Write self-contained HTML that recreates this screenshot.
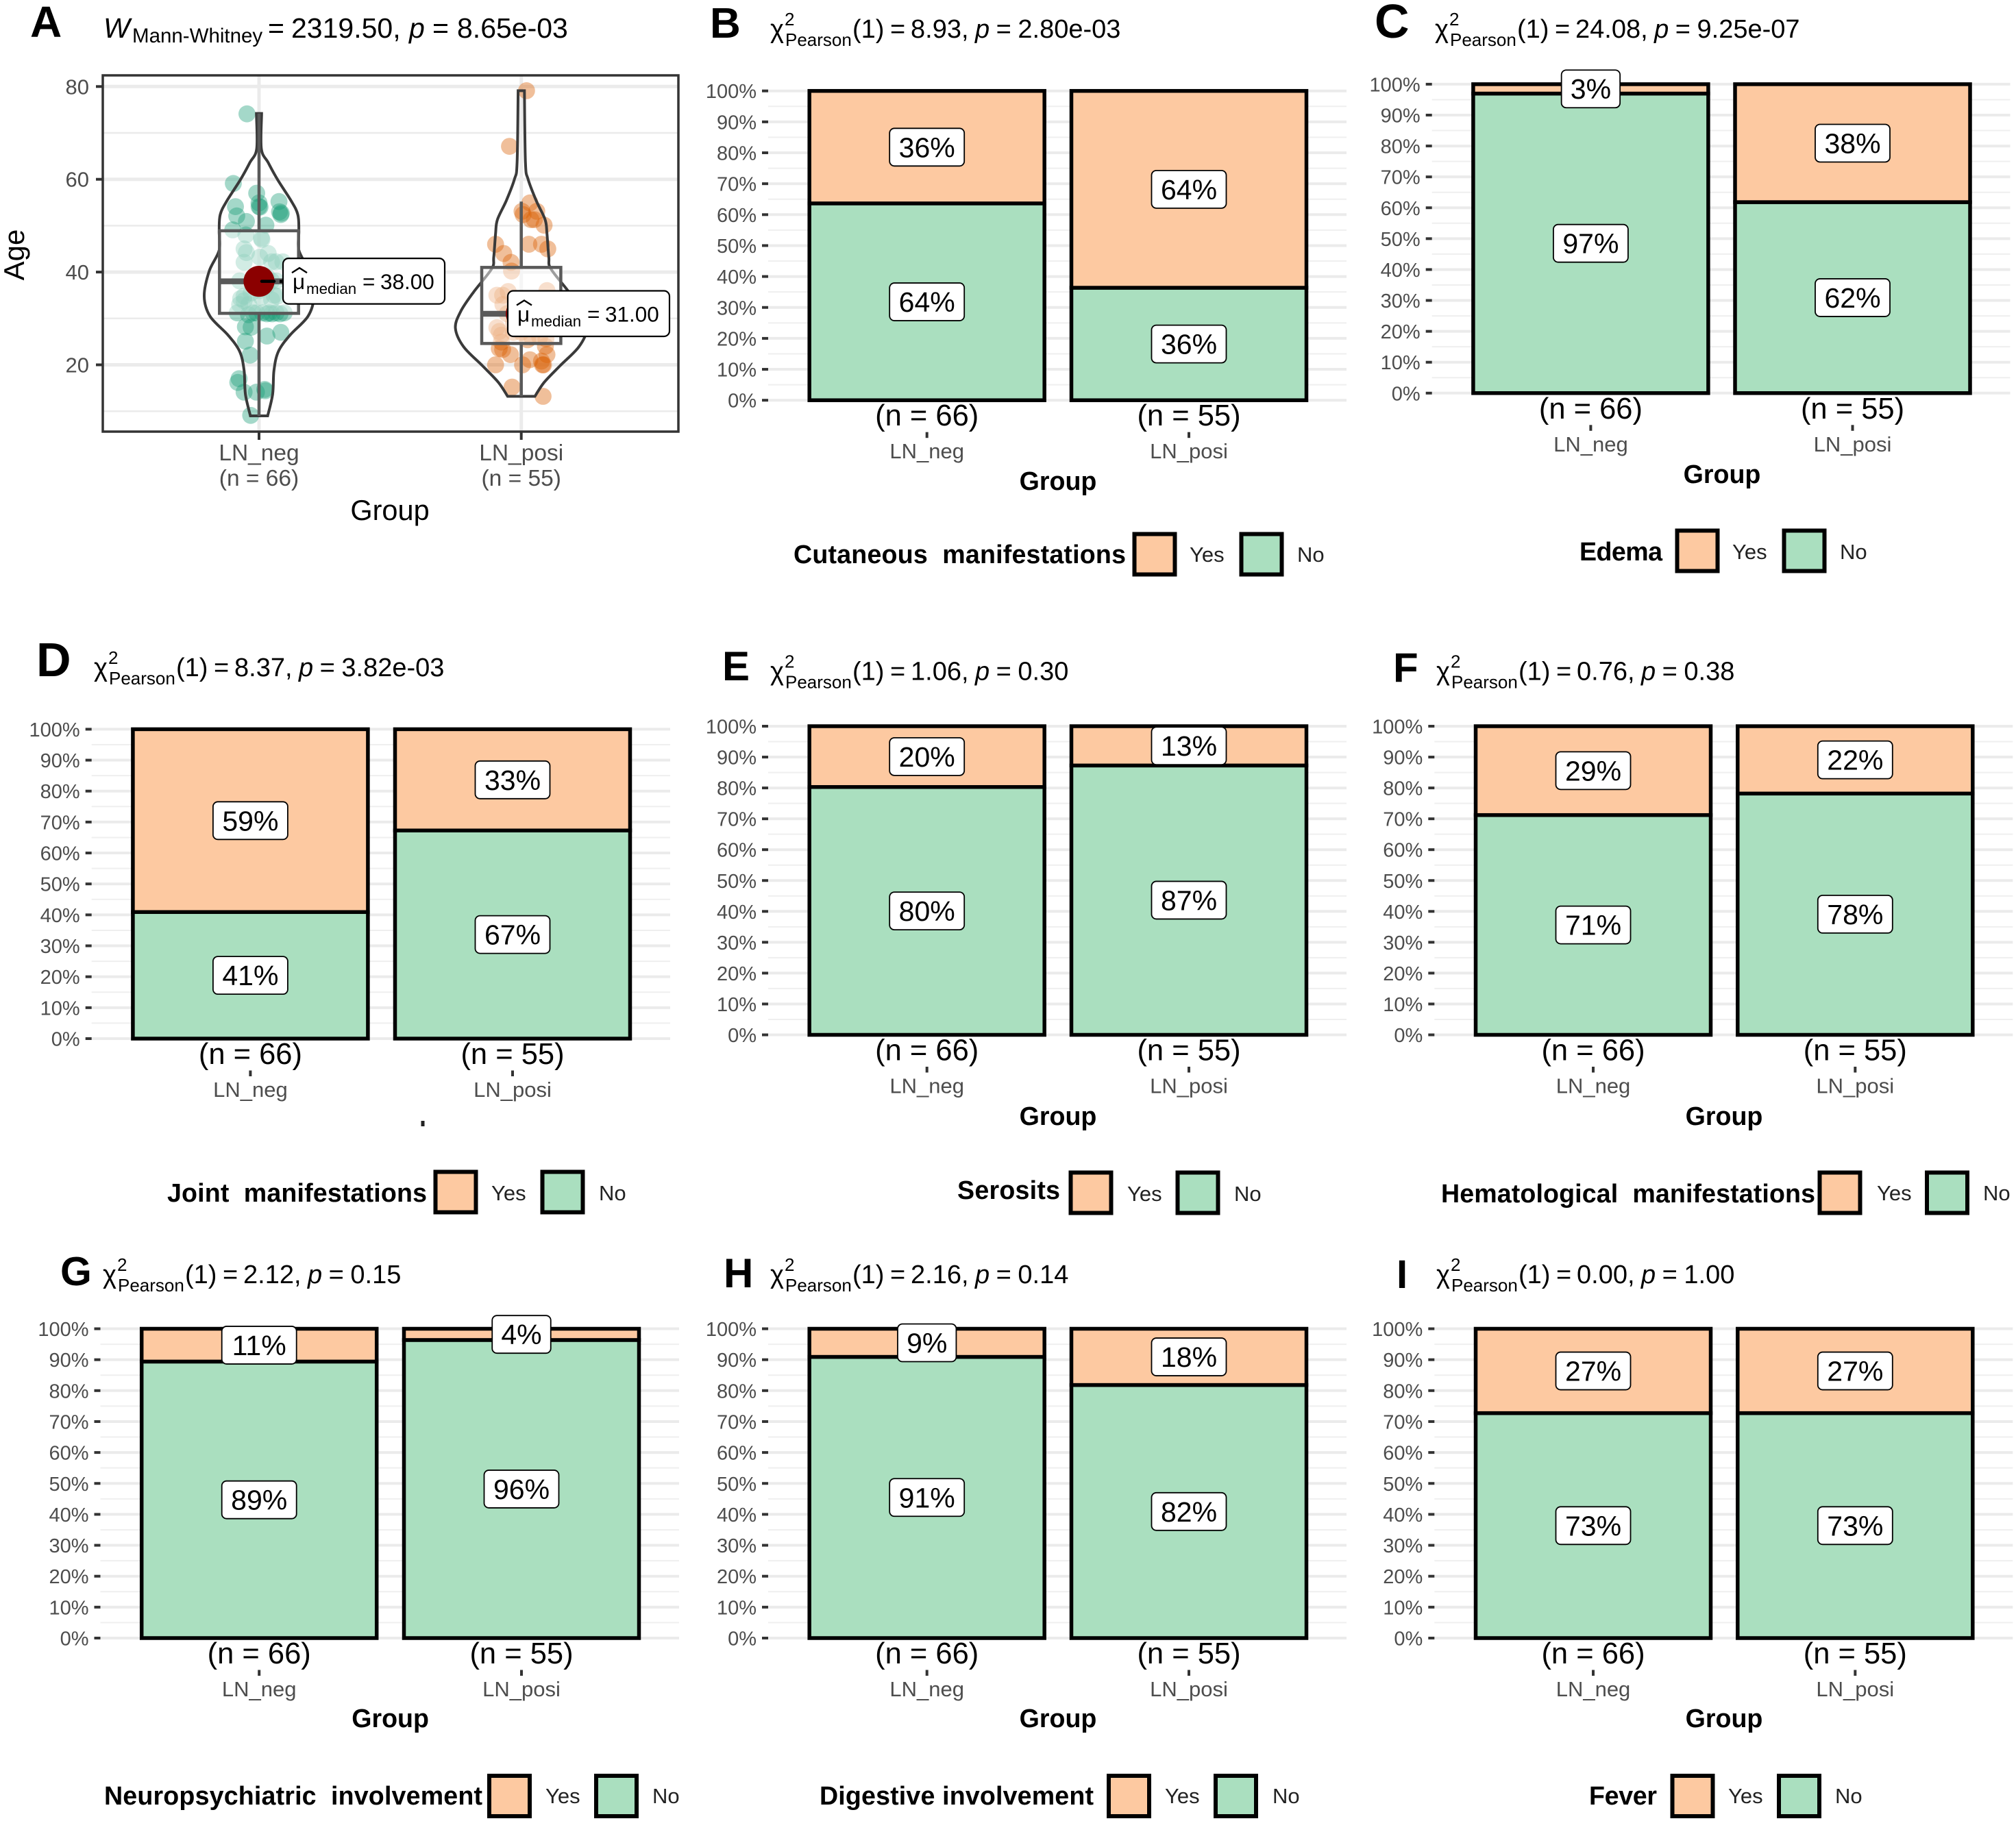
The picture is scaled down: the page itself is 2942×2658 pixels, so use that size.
<!DOCTYPE html>
<html lang="en">
<head>
<meta charset="utf-8">
<title>LN_neg vs LN_posi clinical comparison</title>
<style>
html,body{margin:0;padding:0;background:#fff}
svg{display:block;font-family:"Liberation Sans",sans-serif}
.letter{font-weight:700;fill:#000}
.ttl{font-size:38px;fill:#000}
.ttl .ss{font-size:26px}
.grp{font-size:37.6px;font-weight:700;fill:#000;text-anchor:middle}
.lgt{font-size:37.6px;font-weight:700;fill:#000;white-space:pre}
.lgl{font-size:31px;fill:#222}
.key{stroke:#000;stroke-width:6}
.yes{fill:#FDC9A1}
.no{fill:#AADFBF}
</style>
</head>
<body>
<svg id="fig" xmlns="http://www.w3.org/2000/svg" width="2942" height="2658" viewBox="0 0 2942 2658">
<rect x="0" y="0" width="2942" height="2658" fill="#fff"/>
<g id="layer-a"></g>
<g id="layer-bars"></g>

<text class="letter" x="44" y="54" font-size="64">A</text>
<text class="letter" x="1036" y="55" font-size="62">B</text>
<text class="letter" x="2006" y="55" font-size="70">C</text>
<text class="letter" x="53" y="987" font-size="70">D</text>
<text class="letter" x="1054" y="993" font-size="60">E</text>
<text class="letter" x="2033" y="995" font-size="60">F</text>
<text class="letter" x="88" y="1876" font-size="59">G</text>
<text class="letter" x="1056" y="1879" font-size="60">H</text>
<text class="letter" x="2038" y="1880" font-size="58">I</text>

<text x="151" y="55" font-size="41" fill="#000"><tspan font-style="italic">W</tspan><tspan x="193" y="62" font-size="29.5">Mann-Whitney</tspan><tspan x="391" y="55">=</tspan><tspan x="425">2319.50,</tspan><tspan x="597" font-style="italic">p</tspan><tspan x="631">=</tspan><tspan x="667">8.65e-03</tspan></text>

<text class="ttl" x="1124" y="55"><tspan>χ</tspan><tspan class="ss" x="1145" y="37">2</tspan><tspan class="ss" x="1146" y="67">Pearson</tspan><tspan x="1244" y="55">(1)</tspan><tspan x="1299">=</tspan><tspan x="1329">8.93,</tspan><tspan dx="9.5" font-style="italic">p</tspan><tspan dx="9.5">=</tspan><tspan dx="9.5">2.80e-03</tspan></text>
<text class="ttl" x="2094" y="55"><tspan>χ</tspan><tspan class="ss" x="2115" y="37">2</tspan><tspan class="ss" x="2116" y="67">Pearson</tspan><tspan x="2214" y="55">(1)</tspan><tspan x="2269">=</tspan><tspan x="2299">24.08,</tspan><tspan dx="9.5" font-style="italic">p</tspan><tspan dx="9.5">=</tspan><tspan dx="9.5">9.25e-07</tspan></text>
<text class="ttl" x="137" y="987"><tspan>χ</tspan><tspan class="ss" x="158" y="969">2</tspan><tspan class="ss" x="159" y="999">Pearson</tspan><tspan x="257" y="987">(1)</tspan><tspan x="312">=</tspan><tspan x="342">8.37,</tspan><tspan dx="9.5" font-style="italic">p</tspan><tspan dx="9.5">=</tspan><tspan dx="9.5">3.82e-03</tspan></text>
<text class="ttl" x="1124" y="992.6"><tspan>χ</tspan><tspan class="ss" x="1145" y="974.6">2</tspan><tspan class="ss" x="1146" y="1004.6">Pearson</tspan><tspan x="1244" y="992.6">(1)</tspan><tspan x="1299">=</tspan><tspan x="1329">1.06,</tspan><tspan dx="9.5" font-style="italic">p</tspan><tspan dx="9.5">=</tspan><tspan dx="9.5">0.30</tspan></text>
<text class="ttl" x="2096" y="992.6"><tspan>χ</tspan><tspan class="ss" x="2117" y="974.6">2</tspan><tspan class="ss" x="2118" y="1004.6">Pearson</tspan><tspan x="2216" y="992.6">(1)</tspan><tspan x="2271">=</tspan><tspan x="2301">0.76,</tspan><tspan dx="9.5" font-style="italic">p</tspan><tspan dx="9.5">=</tspan><tspan dx="9.5">0.38</tspan></text>
<text class="ttl" x="150" y="1873"><tspan>χ</tspan><tspan class="ss" x="171" y="1855">2</tspan><tspan class="ss" x="172" y="1885">Pearson</tspan><tspan x="270" y="1873">(1)</tspan><tspan x="325">=</tspan><tspan x="355">2.12,</tspan><tspan dx="9.5" font-style="italic">p</tspan><tspan dx="9.5">=</tspan><tspan dx="9.5">0.15</tspan></text>
<text class="ttl" x="1124" y="1873"><tspan>χ</tspan><tspan class="ss" x="1145" y="1855">2</tspan><tspan class="ss" x="1146" y="1885">Pearson</tspan><tspan x="1244" y="1873">(1)</tspan><tspan x="1299">=</tspan><tspan x="1329">2.16,</tspan><tspan dx="9.5" font-style="italic">p</tspan><tspan dx="9.5">=</tspan><tspan dx="9.5">0.14</tspan></text>
<text class="ttl" x="2096" y="1873"><tspan>χ</tspan><tspan class="ss" x="2117" y="1855">2</tspan><tspan class="ss" x="2118" y="1885">Pearson</tspan><tspan x="2216" y="1873">(1)</tspan><tspan x="2271">=</tspan><tspan x="2301">0.00,</tspan><tspan dx="9.5" font-style="italic">p</tspan><tspan dx="9.5">=</tspan><tspan dx="9.5">1.00</tspan></text>

<text x="569" y="759" font-size="41.5" text-anchor="middle" fill="#000">Group</text>
<text x="35" y="372" font-size="42" text-anchor="middle" fill="#000" transform="rotate(-90 35 372)">Age</text>

<text class="grp" x="1544" y="715">Group</text>
<text class="grp" x="2513" y="705">Group</text>
<rect x="614.5" y="1636" width="5" height="8" fill="#222"/>
<text class="grp" x="1544" y="1642">Group</text>
<text class="grp" x="2516" y="1642">Group</text>
<text class="grp" x="569.6" y="2521">Group</text>
<text class="grp" x="1544" y="2521">Group</text>
<text class="grp" x="2516" y="2521">Group</text>

<g>
<text class="lgt" x="1158" y="822" textLength="485" lengthAdjust="spacing">Cutaneous  manifestations</text>
<rect class="key yes" x="1655.5" y="779.5" width="59" height="59"/>
<text class="lgl" x="1736" y="820">Yes</text>
<rect class="key no" x="1811.5" y="779.5" width="59" height="59"/>
<text class="lgl" x="1893" y="820">No</text>
</g>
<g>
<text class="lgt" x="2305" y="818" textLength="121" lengthAdjust="spacing">Edema</text>
<rect class="key yes" x="2447.5" y="774.5" width="59" height="59"/>
<text class="lgl" x="2528" y="816">Yes</text>
<rect class="key no" x="2603.5" y="774.5" width="59" height="59"/>
<text class="lgl" x="2685" y="816">No</text>
</g>
<g>
<text class="lgt" x="244" y="1754" textLength="379" lengthAdjust="spacing">Joint  manifestations</text>
<rect class="key yes" x="635.5" y="1710.5" width="59" height="59"/>
<text class="lgl" x="717" y="1752">Yes</text>
<rect class="key no" x="791.5" y="1710.5" width="59" height="59"/>
<text class="lgl" x="874" y="1752">No</text>
</g>
<g>
<text class="lgt" x="1397" y="1750" textLength="150" lengthAdjust="spacing">Serosits</text>
<rect class="key yes" x="1562.5" y="1711.5" width="59" height="59"/>
<text class="lgl" x="1645" y="1753">Yes</text>
<rect class="key no" x="1718.5" y="1711.5" width="59" height="59"/>
<text class="lgl" x="1801" y="1753">No</text>
</g>
<g>
<text class="lgt" x="2103" y="1755" textLength="546" lengthAdjust="spacing">Hematological  manifestations</text>
<rect class="key yes" x="2655.5" y="1711.5" width="59" height="59"/>
<text class="lgl" x="2739" y="1752">Yes</text>
<rect class="key no" x="2812" y="1711.5" width="59" height="59"/>
<text class="lgl" x="2894" y="1752">No</text>
</g>
<g>
<text class="lgt" x="152" y="2634" textLength="552" lengthAdjust="spacing">Neuropsychiatric  involvement</text>
<rect class="key yes" x="714" y="2592" width="59" height="59"/>
<text class="lgl" x="796" y="2632">Yes</text>
<rect class="key no" x="870" y="2592" width="59" height="59"/>
<text class="lgl" x="952" y="2632">No</text>
</g>
<g>
<text class="lgt" x="1196" y="2634" textLength="400" lengthAdjust="spacing">Digestive involvement</text>
<rect class="key yes" x="1618" y="2592" width="59" height="59"/>
<text class="lgl" x="1700" y="2632">Yes</text>
<rect class="key no" x="1774" y="2592" width="59" height="59"/>
<text class="lgl" x="1857" y="2632">No</text>
</g>
<g>
<text class="lgt" x="2319" y="2634" textLength="99" lengthAdjust="spacing">Fever</text>
<rect class="key yes" x="2440.5" y="2592" width="59" height="59"/>
<text class="lgl" x="2522" y="2632">Yes</text>
<rect class="key no" x="2596" y="2592" width="59" height="59"/>
<text class="lgl" x="2678" y="2632">No</text>
</g>
</svg>

<script>
// ---------- shared categories ----------
const groupNames = ['LN_neg', 'LN_posi'];
const groupCounts = [66, 55];

// ---------- panel A data ----------
const ageTicks = [20, 40, 60, 80];
const ageMinorTicks = [10, 30, 50, 70];
const medians = [38, 31];
const boxQ1 = [31.1, 24.6];
const boxQ3 = [48.9, 41];
const whiskerLow = [9, 13.2];
const whiskerHigh = [74.2, 55.2];
const agesNeg = [74.1,59.1,57,54.9,54,54.1,55.2,53,52.7,52.4,54.1,52.1,50.9,50.1,49.1,48,47.3,47,45,44.2,44,43.2,42.1,42.2,42.2,42.2,38.1,38.1,38.1,34.8,34.3,33.8,33,33,34.6,35,34.8,34,31.2,31.2,31.2,31.2,31.2,31.2,31.2,28.2,28.1,27,26.2,25.1,22.1,17,16.2,14.1,14.1,14.7,14.4,9.1,36,37,31,31,31,30.8,35.5,39];
const jitterNeg = [-.046,-.098,-.009,0,.004,0,.076,.078,.085,.083,-.09,-.085,-.048,.026,-.1,-.05,.009,.011,-.057,-.048,.035,.003,-.057,.048,.091,.065,-.074,.048,.065,-.057,-.07,-.057,-.074,-.039,.009,.057,.07,.048,-.083,-.009,.013,.039,.065,.096,-.022,-.052,-.03,.083,.03,-.052,-.034,-.076,-.081,-.057,-.01,.022,.024,-.032,0,.03,.03,.05,.08,-.04,-.03,.03];
const agesPosi = [79.1,67.1,54.9,53.1,53.1,52.4,51.3,51.3,50.1,46,44,42.1,40.2,46,46,45,35,35,35.8,36,33,31,28,27.2,26.4,24.9,25.4,25.6,23.5,23.3,22.2,21.1,22.2,24,20.8,20,20,20,20,15.2,13.2,32,30,29,28,27,26,33,31,29,27,28,30,26,34];
const jitterPosi = [.02,-.045,.033,.003,.059,.007,.037,.05,.087,-.098,-.067,-.039,-.037,.029,.077,.101,-.093,-.071,-.05,.098,-.07,-.054,-.093,-.084,-.076,-.076,.024,.094,-.084,-.071,-.041,.033,.098,.092,.077,.081,.085,-.098,.005,-.035,.083,-.02,.02,.05,.08,0,.04,.06,.09,-.03,-.03,.03,.07,.07,0];
const violinAgesNeg = [74.2,66.6,63.6,60,55.4,52.4,48.8,44.7,40.2,34.8,30.5,26.4,22.9,18.8,13.7,9];
const violinDensityNeg = [.01,.009,.035,.07,.122,.148,.152,.152,.19,.209,.187,.118,.074,.057,.052,.033];
const violinAgesPosi = [79.1,63.6,60,55.4,51.3,48.3,43.2,40.7,35.6,31.5,27.9,23.9,19.8,16.2,13.2];
const violinDensityPosi = [.012,.016,.026,.057,.091,.098,.105,.113,.183,.231,.251,.22,.148,.087,.052];

// ---------- stacked bar data ----------
const panelIds = ['b','c','d','e','f','g','h','i'];
const yesNeg = [24, 2, 39, 13, 19, 7, 6, 18];
const yesPosi = [35, 21, 18, 7, 12, 2, 10, 15];
const percentTicks = [0,10,20,30,40,50,60,70,80,90,100];
const percentMinorTicks = [5,15,25,35,45,55,65,75,85,95];

// ---------- layout (not data) ----------
const SVGNS = 'http://www.w3.org/2000/svg';
const barLayout = [
  {c1:1352.7,c2:1735,top:132.7,bot:584.2},
  {c1:2321.4,c2:2703.5,top:122.9,bot:573.8},
  {c1:365.4,c2:748,top:1064.4,bot:1516},
  {c1:1352.7,c2:1735,top:1060,bot:1510.5},
  {c1:2325,c2:2707.3,top:1060,bot:1510.5},
  {c1:378.2,c2:761,top:1939.5,bot:2391},
  {c1:1352.7,c2:1735,top:1939.5,bot:2391},
  {c1:2325,c2:2707.3,top:1939.5,bot:2391}
];
const layerA = document.getElementById('layer-a');
const layerBars = document.getElementById('layer-bars');

function make(tag, attrs, parent, text) {
  const el = document.createElementNS(SVGNS, tag);
  for (const k in attrs) el.setAttribute(k, attrs[k]);
  if (text !== undefined) el.textContent = text;
  parent.appendChild(el);
  return el;
}

// ---------- panel A axes ----------
const PANEL_A = {left:150, right:990, top:110, bottom:630};
function ageY(a) { return 532.5 - (a - 20) * 6.77; }
function groupX(i) { return 378 + i * 382.7; }

function smoothPath(pts, start) {
  let d = start ? 'M' + pts[0][0].toFixed(1) + ' ' + pts[0][1].toFixed(1) : 'L' + pts[0][0].toFixed(1) + ' ' + pts[0][1].toFixed(1);
  for (let i = 0; i < pts.length - 1; i++) {
    const p0 = pts[Math.max(i - 1, 0)], p1 = pts[i], p2 = pts[i + 1], p3 = pts[Math.min(i + 2, pts.length - 1)];
    const c1x = p1[0] + (p2[0] - p0[0]) / 6, c1y = p1[1] + (p2[1] - p0[1]) / 6;
    const c2x = p2[0] - (p3[0] - p1[0]) / 6, c2y = p2[1] - (p3[1] - p1[1]) / 6;
    d += 'C' + c1x.toFixed(1) + ' ' + c1y.toFixed(1) + ' ' + c2x.toFixed(1) + ' ' + c2y.toFixed(1) + ' ' + p2[0].toFixed(1) + ' ' + p2[1].toFixed(1);
  }
  return d;
}

ageMinorTicks.forEach(function (v) {
  const el = make('line', {x1:PANEL_A.left, x2:PANEL_A.right, y1:ageY(v), y2:ageY(v), stroke:'#EBEBEB', 'stroke-width':2.5}, layerA);
  
  
});
ageTicks.forEach(function (v) {
  const el = make('line', {x1:PANEL_A.left, x2:PANEL_A.right, y1:ageY(v), y2:ageY(v), stroke:'#EBEBEB', 'stroke-width':5}, layerA);
  
  
});
groupNames.forEach(function (g, i) {
  const el = make('line', {x1:groupX(i), x2:groupX(i), y1:PANEL_A.top, y2:PANEL_A.bottom, stroke:'#EBEBEB', 'stroke-width':5}, layerA);
  
  
});

// ---------- panel A points ----------
function drawPoints(ages, jitter, groupIndex, color, name) {
  ages.forEach(function (a, k) {
    const el = make('circle', {cx:(groupX(groupIndex) + jitter[k] * 382.7).toFixed(1), cy:ageY(a).toFixed(1), r:12.4, fill:color, 'fill-opacity':0.4}, layerA);
    
    
  });
}
drawPoints(agesNeg, jitterNeg, 0, '#1B9E77', 'lnneg');
drawPoints(agesPosi, jitterPosi, 1, '#D95F02', 'lnposi');

// ---------- panel A violins ----------
function drawViolin(ages, dens, groupIndex, name) {
  const cx = groupX(groupIndex);
  const right = ages.map(function (a, k) { return [cx + dens[k] * 382.7, ageY(a)]; });
  const left = ages.map(function (a, k) { return [cx - dens[k] * 382.7, ageY(a)]; }).reverse();
  const d = smoothPath(right, true) + smoothPath(left, false) + 'Z';
  const el = make('path', {d:d, fill:'none', stroke:'#3A3A3A', 'stroke-width':4, 'stroke-linejoin':'miter'}, layerA);
  
  
}
drawViolin(violinAgesNeg, violinDensityNeg, 0, 'lnneg');
drawViolin(violinAgesPosi, violinDensityPosi, 1, 'lnposi');

// ---------- panel A box plots ----------
groupNames.forEach(function (g, i) {
  const cx = groupX(i);
  const w1 = make('line', {x1:cx, x2:cx, y1:ageY(whiskerHigh[i]), y2:ageY(boxQ3[i]), stroke:'#595959', 'stroke-width':4.5}, layerA);
  
  
  const w2 = make('line', {x1:cx, x2:cx, y1:ageY(boxQ1[i]), y2:ageY(whiskerLow[i]), stroke:'#595959', 'stroke-width':4.5}, layerA);
  
  
  const box = make('rect', {x:cx - 57.7, y:ageY(boxQ3[i]), width:115.4, height:ageY(boxQ1[i]) - ageY(boxQ3[i]), fill:'#fff', 'fill-opacity':0.5, stroke:'#595959', 'stroke-width':4.5}, layerA);
  
  
  const med = make('line', {x1:cx - 57.7, x2:cx + 57.7, y1:ageY(medians[i]), y2:ageY(medians[i]), stroke:'#595959', 'stroke-width':8.5}, layerA);
  
  
  const dot = make('circle', {cx:cx, cy:ageY(medians[i]), r:22.6, fill:'#8B0000'}, layerA);
  
  
  const seg = make('line', {x1:cx + 4, x2:cx + 22, y1:ageY(medians[i]), y2:ageY(medians[i]), stroke:'#000', 'stroke-width':4.5, 'stroke-linecap':'round'}, layerA);
  
  
  const seg2 = make('line', {x1:cx + 30, x2:cx + 36, y1:ageY(medians[i]), y2:ageY(medians[i]), stroke:'#000', 'stroke-width':4.5}, layerA);
  
  
});

// ---------- panel A frame and ticks ----------
const frame = make('rect', {x:PANEL_A.left, y:PANEL_A.top, width:PANEL_A.right - PANEL_A.left, height:PANEL_A.bottom - PANEL_A.top, fill:'none', stroke:'#333', 'stroke-width':3.5}, layerA);


ageTicks.forEach(function (v) {
  const tick = make('line', {x1:PANEL_A.left - 10, x2:PANEL_A.left, y1:ageY(v), y2:ageY(v), stroke:'#333', 'stroke-width':4}, layerA);
  
  
  const lab = make('text', {x:PANEL_A.left - 20, y:ageY(v) + 11, 'font-size':31, 'text-anchor':'end', fill:'#4D4D4D'}, layerA, String(v));
  
  
});
groupNames.forEach(function (g, i) {
  const cx = groupX(i);
  const tick = make('line', {x1:cx, x2:cx, y1:PANEL_A.bottom, y2:PANEL_A.bottom + 12, stroke:'#333', 'stroke-width':4}, layerA);
  
  
  const lab = make('text', {x:cx, y:672, 'font-size':33.5, 'text-anchor':'middle', fill:'#4D4D4D'}, layerA, g);
  
  
  const n = make('text', {x:cx, y:709, 'font-size':33.5, 'text-anchor':'middle', fill:'#4D4D4D'}, layerA, '(n = ' + groupCounts[i] + ')');
  
  
});

// ---------- panel A median callouts ----------
medians.forEach(function (m, i) {
  const left = groupX(i) + 35 + (i === 1 ? -54.7 : 0);
  const top = ageY(m) - 33.5;
  const g = make('g', {transform:'translate(' + left.toFixed(1) + ' ' + top.toFixed(1) + ')'}, layerA);
  
  
  const box = make('rect', {x:0, y:0, width:236, height:66.5, rx:8, fill:'#fff', stroke:'#000', 'stroke-width':2.2}, g);
  
  
  const hat = make('polyline', {points:'13,21 24,14 35,21', fill:'none', stroke:'#000', 'stroke-width':2.4}, g);
  
  
  const mu = make('text', {x:14, y:45, 'font-size':31.5, fill:'#000'}, g, 'μ');
  
  
  const sub = make('text', {x:34, y:52, 'font-size':22.3, fill:'#000'}, g, 'median');
  
  
  const eq = make('text', {x:116, y:45, 'font-size':31.5, fill:'#000'}, g, '=');
  
  
  const val = make('text', {x:142, y:45, 'font-size':31.5, fill:'#000'}, g, m.toFixed(2));
  
  
});

// ---------- stacked bars ----------
function pctY(p, L) { return L.bot - (p / 100) * (L.bot - L.top); }

panelIds.forEach(function (id, pi) {
  const L = barLayout[pi];
  const panel = make('g', {}, layerBars);
  
  
  const x0 = L.c1 - 231.7, x1 = Math.min(L.c2 + 230, 2942);

  percentMinorTicks.forEach(function (v) {
    const el = make('line', {x1:x0, x2:x1, y1:pctY(v, L), y2:pctY(v, L), stroke:'#EFEFEF', 'stroke-width':2}, panel);
    
    
  });
  percentTicks.forEach(function (v) {
    const y = pctY(v, L);
    const el = make('line', {x1:x0, x2:x1, y1:y, y2:y, stroke:'#EBEBEB', 'stroke-width':4}, panel);
    
    
    const tick = make('line', {x1:x0 - 9, x2:x0, y1:y, y2:y, stroke:'#333', 'stroke-width':4}, panel);
    
    
    const lab = make('text', {x:x0 - 17, y:y + 10.5, 'font-size':29, 'text-anchor':'end', fill:'#4D4D4D'}, panel, v + '%');
    
    
  });

  const yes = [yesNeg[pi], yesPosi[pi]];
  [L.c1, L.c2].forEach(function (cx, gi) {
    const yesPct = yes[gi] / groupCounts[gi] * 100;
    const noPct = 100 - yesPct;
    const yMid = pctY(noPct, L);

    const barNo = make('rect', {x:cx - 171.5, y:yMid, width:343, height:L.bot - yMid, fill:'#AADFBF', stroke:'#000', 'stroke-width':5.5}, panel);
    
    
    const barYes = make('rect', {x:cx - 171.5, y:L.top, width:343, height:yMid - L.top, fill:'#FDC9A1', stroke:'#000', 'stroke-width':5.5}, panel);
    
    

    [[yesPct, pctY(100 - yesPct / 2, L), 'yes'], [noPct, pctY(noPct / 2, L), 'no']].forEach(function (seg) {
      const txt = Math.round(seg[0]) + '%';
      const w = txt.length > 2 ? 109 : 85.5;
      const box = make('rect', {x:cx - w / 2, y:seg[1] - 27.5, width:w, height:55, rx:7, fill:'#fff', stroke:'#000', 'stroke-width':1.8}, panel);
      
      
      const t = make('text', {x:cx, y:seg[1] + 14.5, 'font-size':41, 'text-anchor':'middle', fill:'#000'}, panel, txt);
      
      
    });

    const nLab = make('text', {x:cx, y:L.bot + 37, 'font-size':43.5, 'text-anchor':'middle', fill:'#000'}, panel, '(n = ' + groupCounts[gi] + ')');
    
    
    const tick = make('line', {x1:cx, x2:cx, y1:L.bot + 46.5, y2:L.bot + 55, stroke:'#333', 'stroke-width':4}, panel);
    
    
    const gLab = make('text', {x:cx, y:L.bot + 85, 'font-size':31, 'text-anchor':'middle', fill:'#4D4D4D'}, panel, groupNames[gi]);
    
    
  });
});
</script>
</body>
</html>
